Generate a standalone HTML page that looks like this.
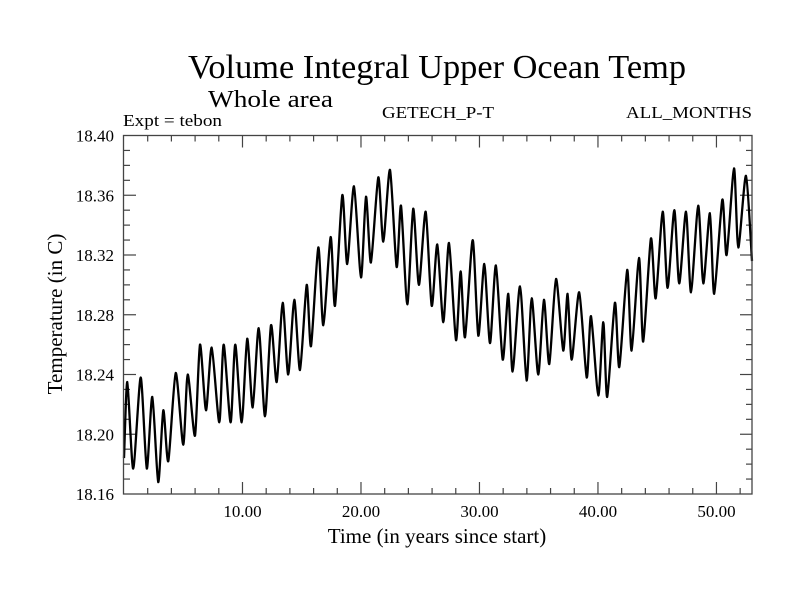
<!DOCTYPE html>
<html><head><meta charset="utf-8"><style>
html,body{margin:0;padding:0;background:#fff;}
svg{display:block;font-family:"Liberation Serif",serif;}
</style></head><body>
<svg id="chart" width="800" height="600" viewBox="0 0 800 600">
<text x="188" y="78" font-size="34" textLength="498" lengthAdjust="spacingAndGlyphs">Volume Integral Upper Ocean Temp</text>
<text x="208" y="107" font-size="24" textLength="125" lengthAdjust="spacingAndGlyphs">Whole area</text>
<text x="123" y="126" font-size="17" textLength="99" lengthAdjust="spacingAndGlyphs">Expt = tebon</text>
<text x="382" y="118" font-size="17" textLength="112" lengthAdjust="spacingAndGlyphs">GETECH_P-T</text>
<text x="626" y="118" font-size="17" textLength="126" lengthAdjust="spacingAndGlyphs">ALL_MONTHS</text>
<text x="437" y="543" font-size="21" text-anchor="middle">Time (in years since start)</text>
<text x="0" y="0" font-size="21" text-anchor="middle" transform="translate(62,314) rotate(-90)">Temperature (in C)</text>
<g id="axes"></g>
<rect x="123.5" y="135.5" width="628.5" height="358.5" fill="none" stroke="#444" stroke-width="1.3"/>
</svg>
<script>
const times = [0,0.28,0.78,1.41,1.92,2.39,2.89,3.32,3.74,4.36,5.00,5.38,5.99,6.41,6.92,7.40,8.04,8.41,9.00,9.39,9.93,10.40,10.86,11.37,11.90,12.41,12.89,13.39,13.86,14.37,14.85,15.42,15.78,16.40,16.82,17.44,17.81,18.42,18.84,19.41,20.00,20.42,20.84,21.46,21.88,22.45,23.01,23.38,23.91,24.41,24.89,25.46,25.97,26.44,26.95,27.43,28.02,28.41,28.78,29.43,29.90,30.41,30.89,31.39,31.96,32.43,32.80,33.42,33.98,34.41,34.96,35.44,35.89,36.46,37.07,37.44,37.78,38.42,39.05,39.41,40.03,40.45,40.78,41.43,41.80,42.47,42.84,43.46,43.82,44.47,44.87,45.46,45.88,46.44,46.86,47.43,47.85,48.46,48.89,49.45,49.81,50.49,50.86,51.48,51.84,52.49,53.00];
const temps = [18.184,18.235,18.177,18.238,18.177,18.225,18.168,18.216,18.182,18.241,18.193,18.240,18.199,18.260,18.216,18.258,18.208,18.260,18.208,18.260,18.208,18.264,18.218,18.271,18.212,18.273,18.235,18.288,18.240,18.290,18.243,18.300,18.259,18.325,18.273,18.332,18.286,18.360,18.314,18.366,18.305,18.359,18.315,18.372,18.329,18.377,18.312,18.353,18.287,18.351,18.300,18.349,18.286,18.327,18.275,18.328,18.263,18.309,18.265,18.330,18.266,18.314,18.261,18.313,18.250,18.294,18.242,18.299,18.236,18.291,18.240,18.290,18.247,18.304,18.256,18.294,18.250,18.295,18.238,18.279,18.226,18.275,18.225,18.288,18.245,18.310,18.256,18.318,18.262,18.331,18.291,18.349,18.298,18.350,18.301,18.349,18.295,18.353,18.301,18.348,18.294,18.357,18.320,18.378,18.325,18.373,18.316];
const xTickLabels = ["10.00","20.00","30.00","40.00","50.00"];
const yTickLabels = ["18.16","18.20","18.24","18.28","18.32","18.36","18.40"];
const X0=124,X1=752,Y0=494,Y1=135.5;
const xMin=0,xMax=53,yMin=18.16,yMax=18.40;
function sx(t){return X0+(t-xMin)/(xMax-xMin)*(X1-X0);}
function sy(v){return Y0-(v-yMin)/(yMax-yMin)*(Y0-Y1);}
const NS="http://www.w3.org/2000/svg";
const g=document.getElementById('axes');
function mk(tag,attrs){const e=document.createElementNS(NS,tag);for(const k in attrs)e.setAttribute(k,attrs[k]);g.appendChild(e);return e;}
for(let t=2;t<xMax;t+=2){
  const major=(t%10===0);const L=major?12:6;
  const a=mk('line',{x1:sx(t),x2:sx(t),y1:Y0,y2:Y0-L,stroke:'#444','stroke-width':1.2});
  
  
  const b=mk('line',{x1:sx(t),x2:sx(t),y1:Y1,y2:Y1+L,stroke:'#444','stroke-width':1.2});
  
  
}
xTickLabels.forEach(s=>{
  const t=parseFloat(s);
  const e=mk('text',{x:sx(t),y:517,'font-size':17,'text-anchor':'middle'});
  e.textContent=s;
  
  
});
for(let i=1;i<24;i++){
  const v=yMin+i*0.01;const major=(i%4===0);const L=major?12:6;
  const a=mk('line',{x1:X0,x2:X0+L,y1:sy(v),y2:sy(v),stroke:'#444','stroke-width':1.2});
  
  
  const b=mk('line',{x1:X1,x2:X1-L,y1:sy(v),y2:sy(v),stroke:'#444','stroke-width':1.2});
  
  
}
yTickLabels.forEach(s=>{
  const v=parseFloat(s);
  const e=mk('text',{x:114,y:sy(v)+6,'font-size':17,'text-anchor':'end'});
  e.textContent=s;
  
  
});
// smooth curve (Catmull-Rom, low tension) through data points
const P=times.map((t,i)=>[sx(t),sy(temps[i])]);
let d='M'+P[0][0].toFixed(1)+','+P[0][1].toFixed(1);
const k=0.12;
for(let i=0;i<P.length-1;i++){
  const p0=P[Math.max(0,i-1)],p1=P[i],p2=P[i+1],p3=P[Math.min(P.length-1,i+2)];
  const c1=[p1[0]+(p2[0]-p0[0])*k,p1[1]+(p2[1]-p0[1])*k];
  const c2=[p2[0]-(p3[0]-p1[0])*k,p2[1]-(p3[1]-p1[1])*k];
  d+='C'+c1[0].toFixed(1)+','+c1[1].toFixed(1)+' '+c2[0].toFixed(1)+','+c2[1].toFixed(1)+' '+p2[0].toFixed(1)+','+p2[1].toFixed(1);
}
const line=mk('path',{d:d,fill:'none',stroke:'#000','stroke-width':2.3,'stroke-linejoin':'round'});


</script>
</body></html>
